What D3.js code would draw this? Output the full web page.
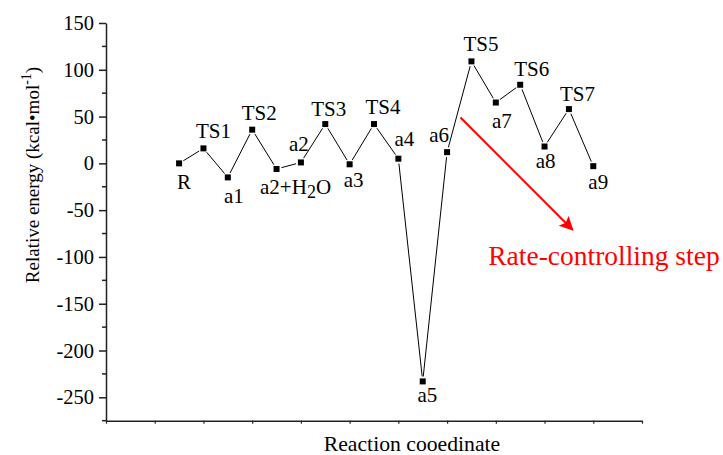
<!DOCTYPE html>
<html>
<head>
<meta charset="utf-8">
<script src="https://cdn.jsdelivr.net/npm/d3@7"></script>
<style>
  html, body { margin: 0; padding: 0; background: #fff; }
  svg { display: block; }
  svg text, svg tspan { font-family: 'Liberation Serif', 'Times New Roman', Times, serif !important; }
</style>
</head>
<body>
<div id="chart"></div>
<script>
// ---- data ----
const categories = ["R", "TS1", "a1", "TS2", "a2+H2O", "a2", "TS3", "a3", "TS4", "a4",
                    "a5", "a6", "TS5", "a7", "TS6", "a8", "TS7", "a9"];
const energies = [0, 16, -15, 36, -6, 1, 42, -1, 42, 5, -233, 12, 109, 65, 84, 18, 58, -3];
const yTickValues = [-250, -200, -150, -100, -50, 0, 50, 100, 150];
const yMinorTickValues = [-275, -225, -175, -125, -75, -25, 25, 75, 125];
const xTitle = "Reaction cooedinate";
const annotationText = "Rate-controlling step";

// ---- layout ----
const W = 723, H = 455;
const mLeft = 106, mRight = 642, mTop = 23, mBottom = 420.7;
const FONT = "'Liberation Serif', 'Times New Roman', Times, serif";
// label offsets (px) relative to each point: [dx, dy]
const labelOffsets = [
  [5, 26], [10, -10], [6, 26], [7, -10], [19, 25], [-2, -11], [3.5, -8.5], [4, 22.5],
  [9, -10], [6, -12.5], [4.7, 21], [-8, -10], [9.5, -10], [6, 25.6], [11.5, -8.7],
  [1, 21.6], [8.6, -8], [5, 22.6]
];

const svg = d3.select("#chart").append("svg").attr("width", W).attr("height", H)
  .attr("font-family", FONT);

const x = d3.scaleLinear().domain([-3, 19]).range([mLeft, mRight]);
const y = d3.scaleLinear().domain([-275, 150]).range([mBottom, mTop]);

// ---- y axis ----
const yAxis = d3.axisLeft(y).tickValues(yTickValues).tickSize(7).tickSizeOuter(0).tickPadding(5)
  .tickFormat(d => String(d));
const gy = svg.append("g").attr("transform", `translate(${mLeft},0)`).call(yAxis)
  .attr("font-family", FONT);
gy.select(".domain").attr("stroke", "#222").attr("stroke-width", 1.5);
gy.selectAll(".tick line").attr("stroke", "#222").attr("stroke-width", 1.5);
gy.selectAll(".tick text").attr("font-size", 20.5).attr("fill", "#000").attr("font-family", FONT);
gy.append("g").selectAll("line").data(yMinorTickValues).join("line")
  .attr("x1", -4).attr("x2", 0).attr("y1", d => y(d)).attr("y2", d => y(d))
  .attr("stroke", "#222").attr("stroke-width", 1.5);

// ---- x axis ----
const xTicks = d3.range(-3, 20, 2);
const xAxis = d3.axisBottom(x).tickValues(xTicks).tickSize(3).tickSizeOuter(0).tickFormat("");
const gx = svg.append("g").attr("transform", `translate(0,${mBottom})`).call(xAxis);
gx.select(".domain").attr("stroke", "#222").attr("stroke-width", 1.5);
gx.selectAll(".tick line").attr("stroke", "#222").attr("stroke-width", 1.2);

// ---- axis titles ----
svg.append("text").attr("x", 412).attr("y", 451).attr("text-anchor", "middle")
  .attr("font-family", FONT).attr("font-size", 21.7).text(xTitle);

const yt = svg.append("text")
  .attr("transform", "translate(39,175) rotate(-90)")
  .attr("text-anchor", "middle").attr("font-family", FONT).attr("font-size", 19);
yt.append("tspan").text("Relative energy (kcal\u2022mol");
yt.append("tspan").attr("dy", -8).attr("font-size", 14).text("-1");
yt.append("tspan").attr("dy", 8).text(")");

// ---- line segments with gaps around markers ----
const pts = energies.map((v, i) => ({ px: x(i), py: y(v), name: categories[i], i }));
const gap = 5;
const segs = d3.pairs(pts).map(([a, b]) => {
  const dx = b.px - a.px, dy = b.py - a.py;
  const L = Math.hypot(dx, dy);
  const ux = dx / L, uy = dy / L;
  return { x1: a.px + ux * gap, y1: a.py + uy * gap, x2: b.px - ux * gap, y2: b.py - uy * gap };
});
svg.append("g").selectAll("line").data(segs).join("line")
  .attr("x1", d => d.x1).attr("y1", d => d.y1).attr("x2", d => d.x2).attr("y2", d => d.y2)
  .attr("stroke", "#000").attr("stroke-width", 1);

// ---- markers ----
svg.append("g").selectAll("rect").data(pts).join("rect")
  .attr("x", d => d.px - 3).attr("y", d => d.py - 3)
  .attr("width", 6).attr("height", 6).attr("fill", "#000");

// ---- point labels ----
const lbl = svg.append("g").selectAll("text").data(pts).join("text")
  .attr("x", d => d.px + labelOffsets[d.i][0])
  .attr("y", d => d.py + labelOffsets[d.i][1])
  .attr("text-anchor", "middle").attr("font-family", FONT).attr("font-size", 21).attr("fill", "#000");
lbl.each(function(d) {
  const t = d3.select(this);
  if (d.name === "a2+H2O") {
    t.append("tspan").text("a2+H");
    t.append("tspan").attr("dy", 4).attr("font-size", 18).text("2");
    t.append("tspan").attr("dy", -4).text("O");
  } else {
    t.text(d.name);
  }
});

// ---- annotation arrow ----
const arrowStart = [11.55, 49];
const arrowEnd = [16.15, -71];
svg.append("defs").append("marker")
  .attr("id", "ah").attr("viewBox", "0 0 10 10").attr("refX", 9).attr("refY", 5)
  .attr("markerWidth", 8).attr("markerHeight", 7).attr("markerUnits", "strokeWidth")
  .attr("orient", "auto")
  .append("path").attr("d", "M0,0 L10,5 L0,10 L2,5 Z").attr("fill", "#ff0000");
svg.append("line")
  .attr("x1", x(arrowStart[0])).attr("y1", y(arrowStart[1]))
  .attr("x2", x(arrowEnd[0])).attr("y2", y(arrowEnd[1]))
  .attr("stroke", "#ff0000").attr("stroke-width", 2).attr("marker-end", "url(#ah)");

svg.append("text").attr("x", x(12.69)).attr("y", y(-109))
  .attr("font-family", FONT).attr("font-size", 27.5).attr("fill", "#ff0000").text(annotationText);
</script>
</body>
</html>
